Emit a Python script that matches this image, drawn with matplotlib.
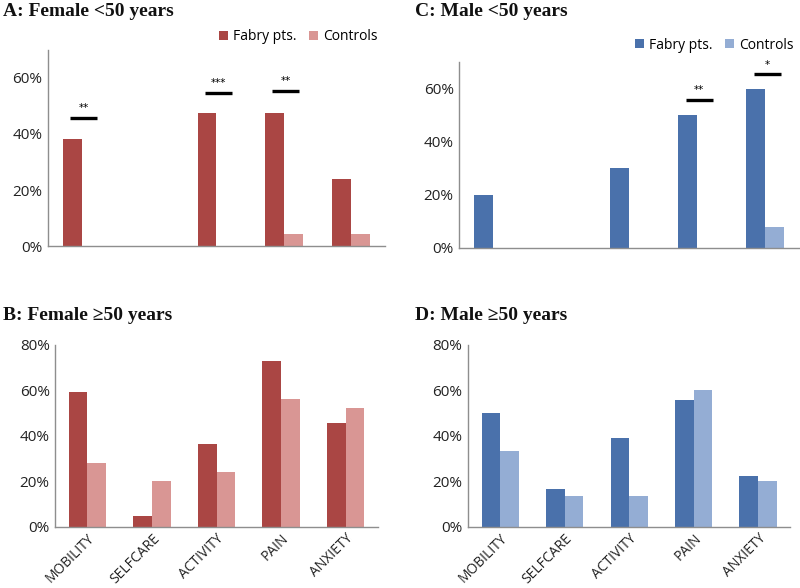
import matplotlib
matplotlib.use("Agg")
import matplotlib.pyplot as plt
from matplotlib.ticker import PercentFormatter
import numpy as np

categories = ["MOBILITY", "SELFCARE", "ACTIVITY", "PAIN", "ANXIETY"]

# Panel A: Female <50 years
a_fabry = [0.381, 0.0, 0.476, 0.476, 0.238]
a_ctrl = [0.0, 0.0, 0.0, 0.042, 0.042]
a_sig_idx = [0, 2, 3]
a_sig_h = [0.457, 0.545, 0.554]
a_sig_txt = ["**", "***", "**"]

# Panel B: Female >=50 years
b_fabry = [0.593, 0.047, 0.366, 0.731, 0.457]
b_ctrl = [0.282, 0.201, 0.241, 0.563, 0.523]

# Panel C: Male <50 years
c_fabry = [0.20, 0.0, 0.30, 0.50, 0.60]
c_ctrl = [0.0, 0.0, 0.0, 0.0, 0.077]
c_sig_idx = [3, 4]
c_sig_h = [0.558, 0.653]
c_sig_txt = ["**", "*"]

# Panel D: Male >=50 years
d_fabry = [0.50, 0.167, 0.389, 0.556, 0.222]
d_ctrl = [0.333, 0.133, 0.133, 0.60, 0.20]

series_names = ["Fabry pts.", "Controls"]
red = "#AA4644"
pink = "#D99694"
blue = "#4A71AB"
lblue = "#94ADD4"
spine_col = "#8E8E8E"

tick_font = "Open Sans"
title_font = "Liberation Serif"

fig = plt.figure(figsize=(8, 5.88), dpi=100)


def style_axes(ax, ymax, yticks, show_x):
    ax.set_xlim(-0.5, 4.5)
    ax.set_ylim(0, ymax)
    ax.set_yticks(yticks)
    ax.yaxis.set_major_formatter(PercentFormatter(1.0, decimals=0))
    for s in ["top", "right"]:
        ax.spines[s].set_visible(False)
    for s in ["left", "bottom"]:
        ax.spines[s].set_color(spine_col)
        ax.spines[s].set_linewidth(1.0)
    ax.tick_params(axis="y", length=0, pad=4)
    ax.tick_params(axis="x", length=0, pad=3)
    for lab in ax.get_yticklabels():
        lab.set_fontfamily(tick_font)
        lab.set_fontsize(11)
        lab.set_color("#222222")
    ax.set_xticks(np.arange(len(categories)))
    if show_x:
        ax.set_xticklabels(categories, rotation=45, ha="right", va="top",
                           rotation_mode="anchor", fontfamily=tick_font,
                           fontsize=10, color="#222222")
    else:
        ax.set_xticklabels([])


def draw_bars(ax, fab, ctl, c1, c2, w):
    x = np.arange(len(categories))
    ax.bar(x - w / 2, fab, w, color=c1, label=series_names[0])
    ax.bar(x + w / 2, ctl, w, color=c2, label=series_names[1])


def draw_sig(ax, idx, hs, txts):
    for i, h, t in zip(idx, hs, txts):
        ax.plot([i - 0.17, i + 0.23], [h, h], color="black", lw=2.4,
                solid_capstyle="butt")
        ax.text(i + 0.03, h + 0.018, t, ha="center", va="bottom",
                fontsize=7.5, color="black")


leg_kw = dict(loc="lower right", ncol=2, frameon=False,
              prop={"family": tick_font, "size": 10}, handlelength=0.6,
              handleheight=0.6, handletextpad=0.4, columnspacing=0.9,
              borderaxespad=0.2, borderpad=0.2)

# A
axA = fig.add_axes([0.060, 0.5816, 0.421, 0.3334])
draw_bars(axA, a_fabry, a_ctrl, red, pink, 0.28)
style_axes(axA, 0.70, [0, 0.2, 0.4, 0.6], False)
draw_sig(axA, a_sig_idx, a_sig_h, a_sig_txt)
axA.legend(bbox_to_anchor=(0.995, 1.0), **leg_kw)

# C
axC = fig.add_axes([0.574, 0.5787, 0.425, 0.3159])
draw_bars(axC, c_fabry, c_ctrl, blue, lblue, 0.28)
style_axes(axC, 0.70, [0, 0.2, 0.4, 0.6], False)
draw_sig(axC, c_sig_idx, c_sig_h, c_sig_txt)
axC.legend(bbox_to_anchor=(1.0, 1.02), **leg_kw)

# B
axB = fig.add_axes([0.069, 0.1043, 0.4035, 0.309])
draw_bars(axB, b_fabry, b_ctrl, red, pink, 0.29)
style_axes(axB, 0.80, [0, 0.2, 0.4, 0.6, 0.8], True)

# D
axD = fig.add_axes([0.585, 0.1043, 0.403, 0.309])
draw_bars(axD, d_fabry, d_ctrl, blue, lblue, 0.29)
style_axes(axD, 0.80, [0, 0.2, 0.4, 0.6, 0.8], True)

tkw = dict(fontfamily=title_font, fontweight="bold", fontsize=14,
           ha="left", va="center", color="#111111")
fig.text(3 / 800, 1 - 12 / 588, "A: Female <50 years", **tkw)
fig.text(415 / 800, 1 - 12 / 588, "C: Male <50 years", **tkw)
fig.text(3 / 800, 1 - 315 / 588, "B: Female \u226550 years", **tkw)
fig.text(415 / 800, 1 - 315 / 588, "D: Male \u226550 years", **tkw)

fig.savefig("out.png", dpi=100)
